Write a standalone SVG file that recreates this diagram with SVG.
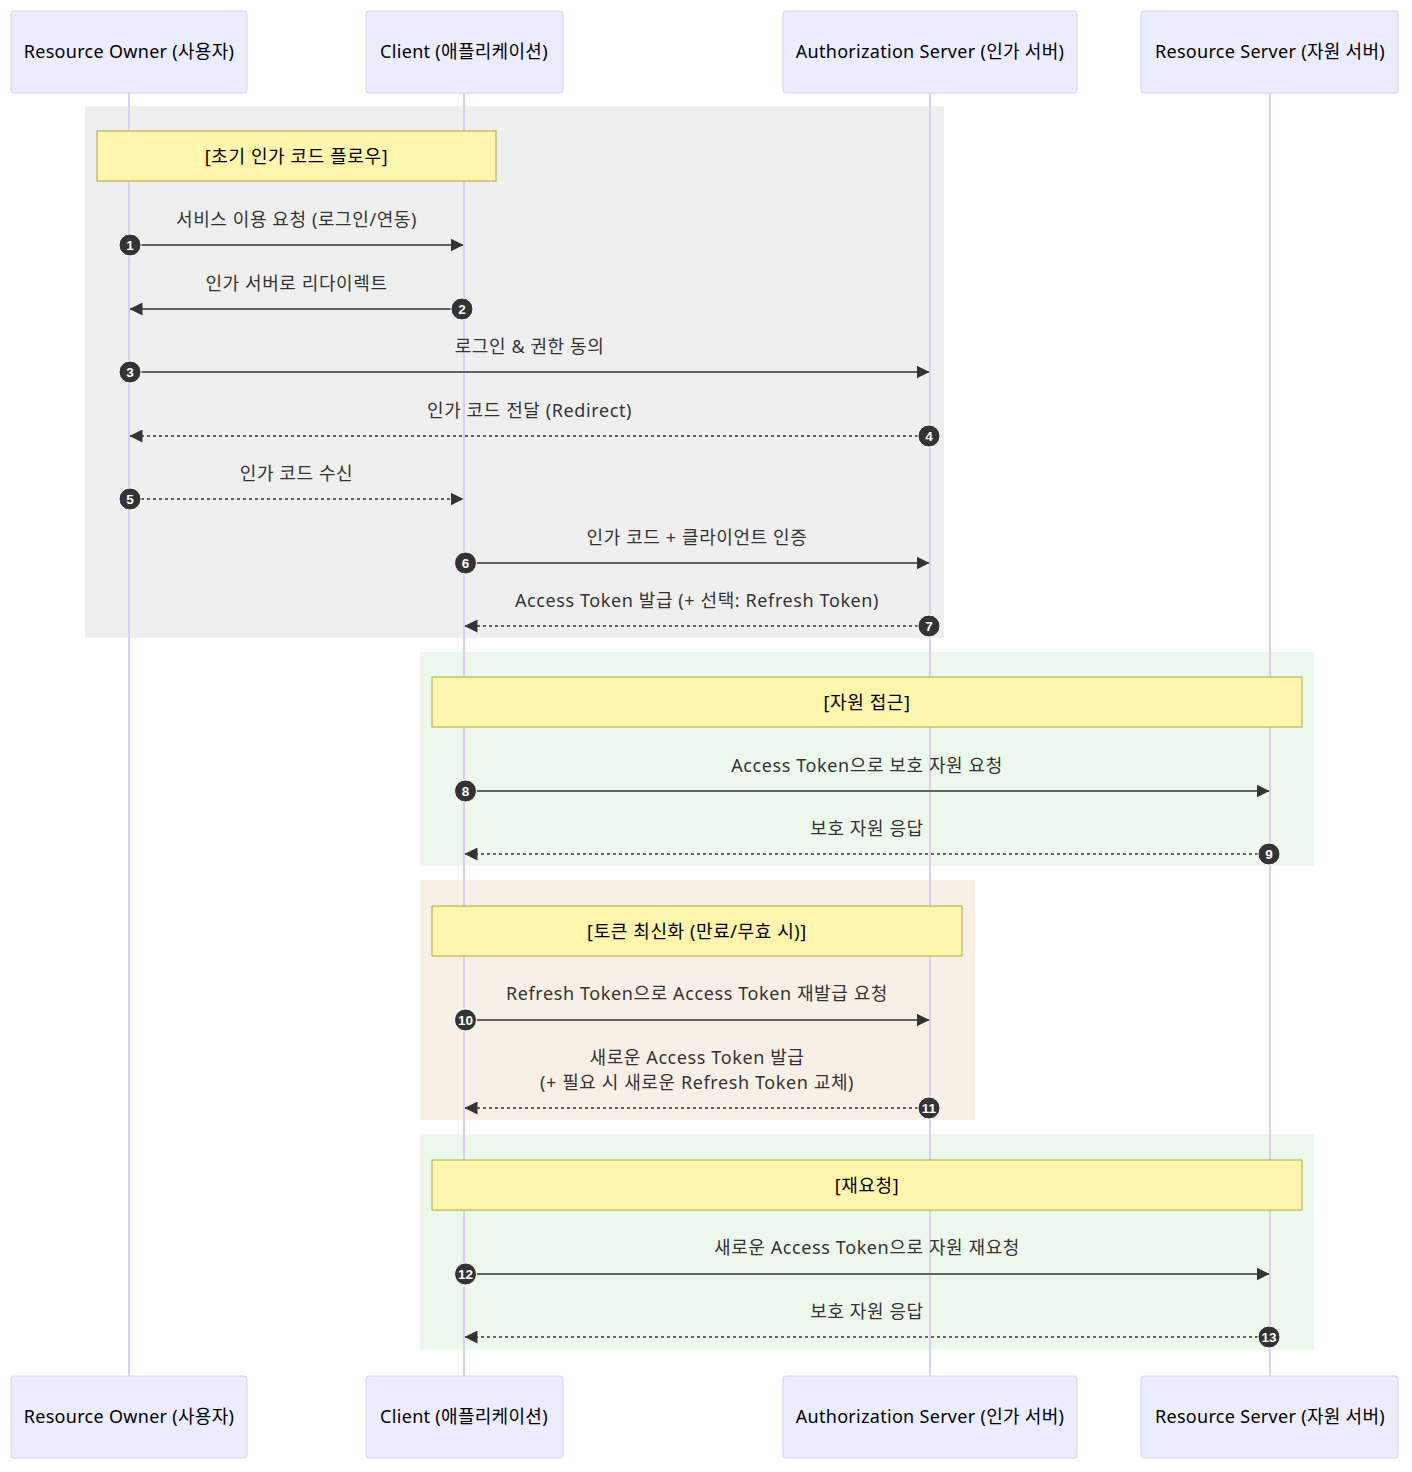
<svg xmlns="http://www.w3.org/2000/svg" width="1412" height="1472" viewBox="0 0 1412 1472">
<style>
text{font-family:"Noto Sans","Noto Sans CJK KR",sans-serif;}
.actor rect{fill:#ECECFF;stroke:#DACEF3;stroke-width:1;}
.actor text{font-size:18px;letter-spacing:0.3px;fill:#000;text-anchor:middle;dominant-baseline:central;}
.life{stroke:#DACEF3;stroke-width:2;}
.note rect{fill:#FFF5AD;stroke:#AAAA33;stroke-width:1;}
.note text{font-size:18px;letter-spacing:0.6px;fill:#000;text-anchor:middle;dominant-baseline:central;}
.msg{stroke:#333;stroke-width:1.5;fill:none;}
.dash{stroke-dasharray:3,3;}
.lbl{font-size:18px;letter-spacing:0.6px;fill:#333;text-anchor:middle;dominant-baseline:central;}
.seq circle{fill:#333;stroke:#fff;stroke-width:1;}
.seq text{font-size:13.5px;font-weight:bold;fill:#fff;text-anchor:middle;dominant-baseline:central;font-family:"Liberation Sans",sans-serif;}
</style>
<defs>
<marker id="arrow" viewBox="0 0 13 13" refX="12.5" refY="6.5" markerWidth="13" markerHeight="13" markerUnits="userSpaceOnUse" orient="auto">
<path d="M0,0 L13,6.5 L0,13 z" fill="#333"/>
</marker>
</defs>
<rect width="1412" height="1472" fill="#fff"/>
<g id="loops">
<rect x="85" y="106" width="859" height="532" fill="#EFEFEF"/>
<rect x="420" y="652" width="894" height="214" fill="#EDF8EC"/>
<rect x="420" y="880" width="555" height="240" fill="#F8EFE6"/>
<rect x="420" y="1134" width="894" height="216" fill="#EDF8EC"/>
</g>
<g id="lifelines">
<line class="life" x1="129" y1="93" x2="129" y2="1376"/>
<line class="life" x1="464" y1="93" x2="464" y2="1376"/>
<line class="life" x1="930" y1="93" x2="930" y2="1376"/>
<line class="life" x1="1270" y1="93" x2="1270" y2="1376"/>
</g>
<g id="actor-ro-top" class="actor"><rect x="11" y="11" width="236" height="82" rx="3"/><text x="129" y="51">Resource Owner (사용자)</text></g>
<g id="actor-client-top" class="actor"><rect x="366" y="11" width="197" height="82" rx="3"/><text x="464" y="51">Client (애플리케이션)</text></g>
<g id="actor-as-top" class="actor"><rect x="783" y="11" width="294" height="82" rx="3"/><text x="930" y="51">Authorization Server (인가 서버)</text></g>
<g id="actor-rs-top" class="actor"><rect x="1141" y="11" width="257" height="82" rx="3"/><text x="1270" y="51">Resource Server (자원 서버)</text></g>
<g id="actor-ro-bottom" class="actor"><rect x="11" y="1376" width="236" height="82" rx="3"/><text x="129" y="1416">Resource Owner (사용자)</text></g>
<g id="actor-client-bottom" class="actor"><rect x="366" y="1376" width="197" height="82" rx="3"/><text x="464" y="1416">Client (애플리케이션)</text></g>
<g id="actor-as-bottom" class="actor"><rect x="783" y="1376" width="294" height="82" rx="3"/><text x="930" y="1416">Authorization Server (인가 서버)</text></g>
<g id="actor-rs-bottom" class="actor"><rect x="1141" y="1376" width="257" height="82" rx="3"/><text x="1270" y="1416">Resource Server (자원 서버)</text></g>
<g id="note-1" class="note"><rect x="97" y="131" width="399" height="50"/><text x="296.5" y="156">[초기 인가 코드 플로우]</text></g>
<g id="note-2" class="note"><rect x="432" y="677" width="870" height="50"/><text x="867" y="702">[자원 접근]</text></g>
<g id="note-3" class="note"><rect x="432" y="906" width="530" height="50"/><text x="697" y="931">[토큰 최신화 (만료/무효 시)]</text></g>
<g id="note-4" class="note"><rect x="432" y="1160" width="870" height="50"/><text x="867" y="1185">[재요청]</text></g>
<g id="connectors">
<line class="msg" x1="129" y1="245" x2="463" y2="245" marker-end="url(#arrow)"/>
<text class="lbl" x="296.5" y="219">서비스 이용 요청 (로그인/연동)</text>
<line class="msg" x1="464" y1="309" x2="130" y2="309" marker-end="url(#arrow)"/>
<text class="lbl" x="296.5" y="283">인가 서버로 리다이렉트</text>
<line class="msg" x1="129" y1="372" x2="929" y2="372" marker-end="url(#arrow)"/>
<text class="lbl" x="529.5" y="346">로그인 &amp; 권한 동의</text>
<line class="msg dash" x1="930" y1="436" x2="130" y2="436" marker-end="url(#arrow)"/>
<text class="lbl" x="529.5" y="410">인가 코드 전달 (Redirect)</text>
<line class="msg dash" x1="129" y1="499" x2="463" y2="499" marker-end="url(#arrow)"/>
<text class="lbl" x="296.5" y="473">인가 코드 수신</text>
<line class="msg" x1="464" y1="563" x2="929" y2="563" marker-end="url(#arrow)"/>
<text class="lbl" x="697" y="537">인가 코드 + 클라이언트 인증</text>
<line class="msg dash" x1="930" y1="626" x2="465" y2="626" marker-end="url(#arrow)"/>
<text class="lbl" x="697" y="600">Access Token 발급 (+ 선택: Refresh Token)</text>
<line class="msg" x1="464" y1="791" x2="1269" y2="791" marker-end="url(#arrow)"/>
<text class="lbl" x="867" y="765">Access Token으로 보호 자원 요청</text>
<line class="msg dash" x1="1270" y1="854" x2="465" y2="854" marker-end="url(#arrow)"/>
<text class="lbl" x="867" y="828">보호 자원 응답</text>
<line class="msg" x1="464" y1="1020" x2="929" y2="1020" marker-end="url(#arrow)"/>
<text class="lbl" x="697" y="993">Refresh Token으로 Access Token 재발급 요청</text>
<line class="msg dash" x1="930" y1="1108" x2="465" y2="1108" marker-end="url(#arrow)"/>
<text class="lbl" x="697" y="1057">새로운 Access Token 발급</text>
<text class="lbl" x="697" y="1082">(+ 필요 시 새로운 Refresh Token 교체)</text>
<line class="msg" x1="464" y1="1274" x2="1269" y2="1274" marker-end="url(#arrow)"/>
<text class="lbl" x="867" y="1247">새로운 Access Token으로 자원 재요청</text>
<line class="msg dash" x1="1270" y1="1337" x2="465" y2="1337" marker-end="url(#arrow)"/>
<text class="lbl" x="867" y="1311">보호 자원 응답</text>
</g>
<g id="sequence-numbers" class="seq">
<circle cx="130" cy="245" r="11"/><text x="130" y="245">1</text>
<circle cx="462" cy="309" r="11"/><text x="462" y="309">2</text>
<circle cx="130" cy="372" r="11"/><text x="130" y="372">3</text>
<circle cx="929" cy="436" r="11"/><text x="929" y="436">4</text>
<circle cx="130" cy="499" r="11"/><text x="130" y="499">5</text>
<circle cx="465.5" cy="563" r="11"/><text x="465.5" y="563">6</text>
<circle cx="929" cy="626" r="11"/><text x="929" y="626">7</text>
<circle cx="465.5" cy="791" r="11"/><text x="465.5" y="791">8</text>
<circle cx="1269" cy="854" r="11"/><text x="1269" y="854">9</text>
<circle cx="465.5" cy="1020" r="11"/><text x="465.5" y="1020">10</text>
<circle cx="929" cy="1108" r="11"/><text x="929" y="1108">11</text>
<circle cx="465.5" cy="1274" r="11"/><text x="465.5" y="1274">12</text>
<circle cx="1269" cy="1337" r="11"/><text x="1269" y="1337">13</text>
</g>
</svg>
